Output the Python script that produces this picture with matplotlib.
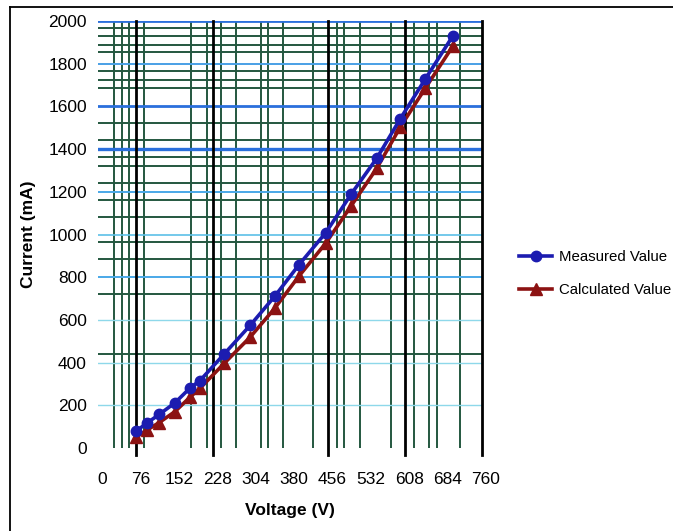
import matplotlib
matplotlib.use("Agg")
import matplotlib.pyplot as plt
from matplotlib.lines import Line2D
from matplotlib.transforms import ScaledTranslation

# ---- data ----
voltage = [76, 97, 121, 152, 183, 202, 250, 301, 350, 398, 451, 501, 552, 598, 648, 702]
measured = [80, 117, 157, 211, 283, 316, 441, 574, 711, 859, 1009, 1189, 1358, 1541, 1729, 1929]
calculated = [52, 84, 119, 170, 240, 280, 397, 519, 655, 806, 960, 1134, 1311, 1502, 1686, 1881]

x_ticks = [0, 76, 152, 228, 304, 380, 456, 532, 608, 684, 760]
y_ticks = [0, 200, 400, 600, 800, 1000, 1200, 1400, 1600, 1800, 2000]
y_tick_marks = [800, 1400, 1600, 1800, 2000]

# graph-paper background lines
green_v = [32, 47, 61, 91, 184, 216, 243, 273, 322, 336, 366, 425, 473, 487, 518, 580, 625, 655, 671, 716]
black_v = [76, 228, 456, 608, 760]
green_h = [1967, 1931, 1889, 1853, 1767, 1725, 1686, 1523, 1441, 1363, 1323, 1240,
           1162, 1080, 967, 885, 720, 439]
blue_h = [2000, 1800, 1600, 1400, 1200, 1000, 800, 600, 400, 200]
blue_h_colors = ['#2a6fdc', '#4aa0e6', '#2a6fdc', '#2a6fdc', '#4aa8e8', '#5cc0e8',
                 '#4aa8e8', '#8ed8ea', '#8ed8ea', '#8ed8ea']
blue_h_widths = [2.0, 1.4, 2.0, 2.4, 1.4, 1.2, 1.4, 1.0, 1.0, 1.0]

series_labels = ['Measured Value', 'Calculated Value']

FAM = ['Liberation Sans', 'DejaVu Sans']

# ---- figure ----
fig = plt.figure(figsize=(6.73, 5.31), dpi=100)
fig.patch.set_facecolor('white')
ax = fig.add_axes([98 / 673, 1 - 448 / 531, (482 - 98) / 673, (448 - 21) / 531])
ax.set_xlim(0, 760)
ax.set_ylim(0, 2000)
for s in ax.spines.values():
    s.set_visible(False)

grid_green = '#24573f'
for v in green_v:
    ax.axvline(v, color=grid_green, lw=1.4, zorder=1)
for h in green_h:
    ax.axhline(h, color=grid_green, lw=1.4, zorder=1)
for h, c, w in zip(blue_h, blue_h_colors, blue_h_widths):
    ax.axhline(h, color=c, lw=w, zorder=1.5)
for v in black_v:
    ax.axvline(v, ymin=-0.017, ymax=1, color='black', lw=2.0, zorder=2, clip_on=False)

# series
l_calc, = ax.plot(voltage, calculated, color='#8c1212', lw=2.6, marker='^', ms=8.5,
                  zorder=4, label=series_labels[1])
l_meas, = ax.plot(voltage, measured, color='#1c1cb0', lw=2.6, marker='o', ms=7.5,
                  zorder=5, label=series_labels[0])

# ticks
ax.set_xticks(x_ticks)
ax.set_xticklabels([str(t) for t in x_ticks])
ax.set_yticks(y_ticks)
ax.set_yticklabels([str(t) for t in y_ticks])
ax.tick_params(axis='x', which='major', length=0, pad=17, labelsize=12.5)
ax.tick_params(axis='y', which='major', length=0, pad=8, labelsize=12.5)
ax.set_yticks(y_tick_marks, minor=True)
ax.tick_params(axis='y', which='minor', length=3.5, width=2, color='black')
ax.tick_params(axis='x', which='minor', length=0)
off = ScaledTranslation(4 / 100, 0, fig.dpi_scale_trans)
for lab in ax.get_xticklabels():
    lab.set_transform(lab.get_transform() + off)
for lab in ax.get_xticklabels() + ax.get_yticklabels():
    lab.set_fontfamily(FAM)

ax.set_xlabel('Voltage (V)', fontsize=12.5, fontweight='bold', labelpad=12, family=FAM)
ax.set_ylabel('Current (mA)', fontsize=12.5, fontweight='bold', labelpad=9, family=FAM)

leg = fig.legend([l_meas, l_calc], series_labels, loc='upper left',
                 bbox_to_anchor=(519 / 673, 1 - 250 / 531), frameon=False,
                 borderpad=0, borderaxespad=0, handlelength=2.2, handletextpad=0.45,
                 labelspacing=1.3,
                 prop={'family': FAM, 'size': 10.8})

# outer frame
fig.add_artist(Line2D([10 / 673, 1], [1 - 7 / 531, 1 - 7 / 531], color='black', lw=1.3,
                      transform=fig.transFigure))
fig.add_artist(Line2D([10 / 673, 10 / 673], [0, 1 - 7 / 531], color='black', lw=1.3,
                      transform=fig.transFigure))

fig.savefig('out.png', dpi=100, facecolor='white')
